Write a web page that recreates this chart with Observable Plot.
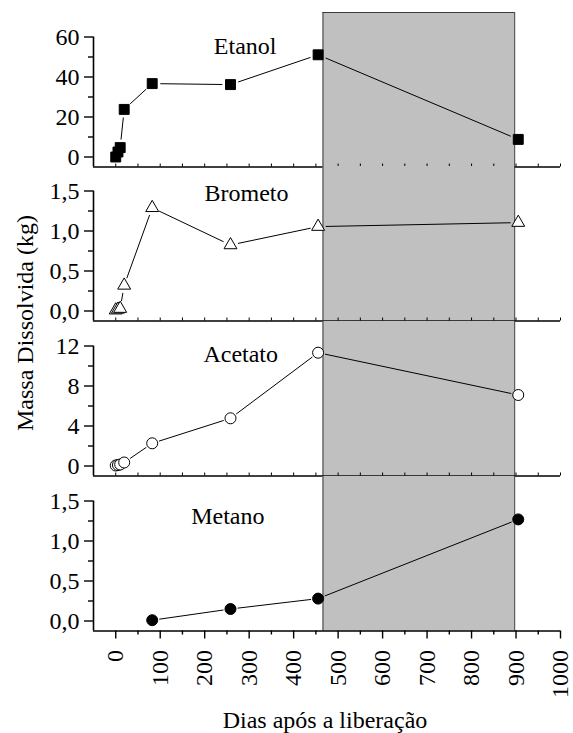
<!DOCTYPE html>
<html><head><meta charset="utf-8">
<script src="https://cdn.jsdelivr.net/npm/d3@7"></script>
<script src="https://cdn.jsdelivr.net/npm/@observablehq/plot@0.6"></script>
<style>
body{margin:0;background:#fff;}
#chart{position:relative;width:573px;height:733px;font-family:"Liberation Serif",Tinos,"Times New Roman",Times,"DejaVu Serif",serif;color:#000;overflow:hidden;}
#chart svg{position:absolute;left:0;}
.ttl{position:absolute;font-size:24px;line-height:24px;white-space:nowrap;text-align:center;width:300px;}
</style></head><body><div id="chart"></div>
<script>
// ---- data ----
const days = [0, 5, 10, 19, 82, 258, 455, 905];
const etanol = [0, 2.5, 4.7, 23.8, 36.7, 36.2, 51.1, 8.8];
const brometo = [0.01, 0.02, 0.03, 0.32, 1.29, 0.825, 1.055, 1.105];
const acetato = [0.05, 0.1, 0.15, 0.35, 2.27, 4.77, 11.33, 7.1];
const metanoDays = [82, 258, 455, 905];
const metano = [0.01, 0.15, 0.28, 1.27];
const shadeStart = 466, shadeEnd = 897;
const xTicks = [0, 100, 200, 300, 400, 500, 600, 700, 800, 900, 1000];
const xMinorTicks = [50, 150, 250, 350, 450, 550, 650, 750, 850, 950];
const yTicksEtanol = [0, 20, 40, 60], yMinorEtanol = [10, 30, 50];
const yTicksBrometo = [0, 0.5, 1.0, 1.5], yMinorBrometo = [0.25, 0.75, 1.25];
const yTicksAcetato = [0, 4, 8, 12], yMinorAcetato = [2, 6, 10];
const yTicksMetano = [0, 0.5, 1.0, 1.5], yMinorMetano = [0.25, 0.75, 1.25];
const names = ["Etanol", "Brometo", "Acetato", "Metano"];
const xLabel = "Dias após a liberação";
const yLabel = "Massa Dissolvida (kg)";

const FONT = '"Liberation Serif",Tinos,"Times New Roman",Times,"DejaVu Serif",serif';
const comma1 = d => d.toFixed(1).replace(".", ",");
const panels = [
  {name: names[0], xs: days, ys: etanol, ticks: yTicksEtanol, minor: yMinorEtanol, fmt: d => String(d),
   symbol: "square", r: 5.6, fill: "black", inset: 8.5, lx: 291, ly: 55.5},
  {name: names[1], xs: days, ys: brometo, ticks: yTicksBrometo, minor: yMinorBrometo, fmt: comma1,
   symbol: "triangle", r: 4.8, fill: "white", inset: 8, lx: 294, ly: 1.475},
  {name: names[2], xs: days, ys: acetato, ticks: yTicksAcetato, minor: yMinorAcetato, fmt: d => String(d),
   symbol: "circle", r: 5.5, fill: "white", inset: 7.5, lx: 281, ly: 11.2},
  {name: names[3], xs: metanoDays, ys: metano, ticks: yTicksMetano, minor: yMinorMetano, fmt: comma1,
   symbol: "circle", r: 5.5, fill: "black", inset: 7.5, lx: 252, ly: 1.306}
];

const axisBottoms = [166, 320.5, 475, 630.5];
const frameH = 154.5;
const chart = document.getElementById("chart");
const allTicks = xTicks.concat(xMinorTicks);

panels.forEach((p, i) => {
  const last = i === panels.length - 1;
  const first = i === 0;
  const yMax = p.ticks[p.ticks.length - 1];
  const yMin = -yMax / 12;
  const yTop = yMax * (1 + 24.5 / 120);
  const perPx = (yTop - yMin) / frameH;
  const pts = p.xs.map((x, j) => ({x, y: p.ys[j]}));
  const segs = pts.slice(1).map((d, j) => ({x1: pts[j].x, y1: pts[j].y, x2: d.x, y2: d.y}));
  const marginBottom = last ? 72 : 0;
  const marks = [
    Plot.rect([{a: shadeStart, b: shadeEnd}], {x1: "a", x2: "b", fill: "#c0c0c0"}),
    Plot.ruleX([shadeStart, shadeEnd], {stroke: "#3a3a3a", strokeWidth: 1}),
  ];
  if (first) marks.push(Plot.ruleY([{y: yTop, a: shadeStart, b: shadeEnd}], {y: "y", x1: "a", x2: "b", stroke: "#3a3a3a"}));
  marks.push(
    Plot.ruleY([yMin], {stroke: "black", strokeWidth: 1.6}),
    Plot.ruleX([-50], {y1: yMin, y2: yMax, stroke: "black", strokeWidth: 1.6}),
    Plot.axisY(p.ticks, {tickSize: 9, tickPadding: 5, tickFormat: p.fmt, label: null, strokeWidth: 1.4}),
    Plot.axisY(p.minor, {tickSize: 5, tickFormat: () => "", label: null, strokeWidth: 1.4})
  );
  if (last) {
    marks.push(
      Plot.axisX(xTicks, {tickSize: 8, tickPadding: 11, tickRotate: -90, tickFormat: d => String(d), label: null, strokeWidth: 1.4}),
      Plot.axisX(xMinorTicks, {tickSize: 4, tickFormat: () => "", label: null, strokeWidth: 1.4})
    );
  } else {
    marks.push(Plot.ruleX(allTicks, {x: d => d, y1: yMin, y2: yMin + 3 * perPx, stroke: "black", strokeWidth: 1}));
  }
  marks.push(
    Plot.arrow(segs, {x1: "x1", y1: "y1", x2: "x2", y2: "y2", insetStart: p.inset, insetEnd: p.inset,
      headLength: 0, stroke: "black", strokeWidth: 1, bend: 0}),
    Plot.dot(pts, {x: "x", y: "y", symbol: p.symbol, r: p.r, fill: p.fill, stroke: "black", strokeWidth: 1}),
    Plot.text([p.name], {x: p.lx, y: p.ly, text: d => d, fontSize: 24, fontFamily: FONT, textAnchor: "middle", lineAnchor: "middle", fill: "black"})
  );
  const svg = Plot.plot({
    width: 573,
    height: frameH + marginBottom,
    marginLeft: 93, marginRight: 13, marginTop: 0, marginBottom,
    style: {fontFamily: FONT, fontSize: "24px", background: "transparent", overflow: "visible", color: "black"},
    x: {domain: [-50, 1000], axis: last ? undefined : null},
    y: {domain: [yMin, yTop]},
    marks
  });
  svg.style.top = (axisBottoms[i] - frameH) + "px";
  chart.appendChild(svg);
});

const xt = document.createElement("div");
xt.className = "ttl"; xt.textContent = xLabel;
xt.style.left = (325 - 150) + "px"; xt.style.top = "708px";
chart.appendChild(xt);
const yt = document.createElement("div");
yt.className = "ttl"; yt.textContent = yLabel;
yt.style.left = (25 - 150) + "px"; yt.style.top = (323 - 12) + "px";
yt.style.transform = "rotate(-90deg)";
chart.appendChild(yt);
</script></body></html>
